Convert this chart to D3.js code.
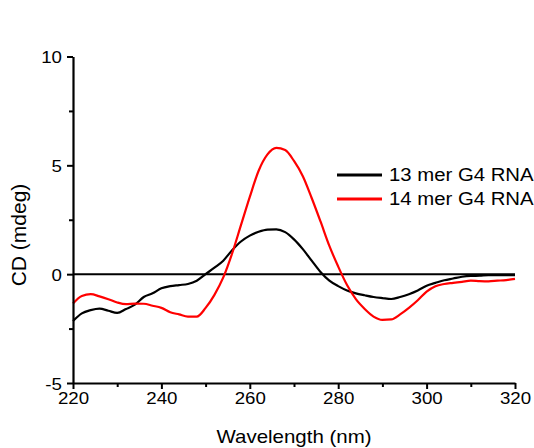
<!DOCTYPE html>
<html>
<head>
<meta charset="utf-8">
<script src="https://cdn.jsdelivr.net/npm/d3@7/dist/d3.min.js"></script>
<style>
  html, body { margin: 0; padding: 0; background: #fff; }
  svg { display: block; font-family: "Liberation Sans", Arial, sans-serif; }
</style>
</head>
<body>
<svg id="chart" width="534" height="448"></svg>
<script>
// CD spectra of two G-quadruplex RNAs, sampled every 2 nm
const wavelength = d3.range(220, 321, 2);

const cd13mer = [
  -2.15, -1.80, -1.65, -1.58, -1.68, -1.78, -1.60, -1.40, -1.05, -0.88,
  -0.65, -0.55, -0.50, -0.45, -0.30, 0.00, 0.30, 0.62, 1.10, 1.50,
  1.77, 1.95, 2.05, 2.06, 1.93, 1.60, 1.15, 0.62, 0.10, -0.30,
  -0.55, -0.75, -0.88, -0.97, -1.05, -1.10, -1.14, -1.05, -0.92, -0.75,
  -0.53, -0.40, -0.28, -0.20, -0.12, -0.08, -0.07, -0.05, -0.05, -0.05,
  -0.04
];

const cd14mer = [
  -1.35, -1.00, -0.92, -1.02, -1.15, -1.30, -1.38, -1.35, -1.36, -1.45,
  -1.55, -1.75, -1.85, -1.95, -1.95, -1.55, -0.95, -0.15, 0.95, 2.25,
  3.55, 4.75, 5.50, 5.80, 5.70, 5.20, 4.50, 3.50, 2.42, 1.30,
  0.35, -0.50, -1.15, -1.60, -1.95, -2.10, -2.08, -1.85, -1.55, -1.20,
  -0.80, -0.55, -0.45, -0.40, -0.35, -0.30, -0.32, -0.33, -0.30, -0.27,
  -0.22
];

const seriesNames = ["13 mer G4 RNA", "14 mer G4 RNA"];
const seriesColors = ["#000000", "#ff0000"];

const xTicks = [220, 240, 260, 280, 300, 320];
const xMinorTicks = [230, 250, 270, 290, 310];
const yTicks = [-5, 0, 5, 10];
const yMinorTicks = [-2.5, 2.5, 7.5];

const xLabel = "Wavelength (nm)";
const yLabel = "CD (mdeg)";

const svg = d3.select("#chart");
const plot = { left: 73, right: 515, top: 56.5, bottom: 383 };

const x = d3.scaleLinear().domain([220, 320]).range([plot.left, plot.right]);
const y = d3.scaleLinear().domain([-5, 10]).range([plot.bottom, plot.top]);

// zero reference line
svg.append("line")
  .attr("x1", x(220)).attr("x2", x(320))
  .attr("y1", y(0)).attr("y2", y(0))
  .attr("stroke", "#000").attr("stroke-width", 2);

// spectra
const line = d3.line()
  .x((d, i) => x(wavelength[i]))
  .y(d => y(d))
  .curve(d3.curveMonotoneX);

[cd13mer, cd14mer].forEach((vals, k) => {
  svg.append("path")
    .datum(vals)
    .attr("fill", "none")
    .attr("stroke", seriesColors[k])
    .attr("stroke-width", 2.2)
    .attr("stroke-linejoin", "round")
    .attr("d", line);
});

// axes; labels use a slightly widened face
const widen = 1.1;
function styleAxis(g) {
  g.selectAll("path.domain").attr("stroke", "#000").attr("stroke-width", 2.2);
  g.selectAll(".tick line").attr("stroke", "#000").attr("stroke-width", 2);
  g.selectAll(".tick text")
    .attr("fill", "#000")
    .style("font-size", "17px")
    .style("font-family", "'Liberation Sans', Arial, sans-serif")
    .each(function () {
      const t = d3.select(this);
      const tx = +t.attr("x") || 0;
      t.attr("x", 0).attr("transform", `translate(${tx},0) scale(${widen},1)`);
    });
}

svg.append("g")
  .attr("transform", `translate(0,${plot.bottom})`)
  .call(d3.axisBottom(x).tickValues(xTicks).tickSize(6).tickSizeOuter(0).tickPadding(3))
  .call(styleAxis);

svg.append("g")
  .attr("transform", `translate(0,${plot.bottom})`)
  .call(d3.axisBottom(x).tickValues(xMinorTicks).tickSize(4).tickFormat(""))
  .call(g => g.select("path.domain").remove())
  .call(styleAxis);

const gy = svg.append("g")
  .attr("transform", `translate(${plot.left},0)`)
  .call(d3.axisLeft(y).tickValues(yTicks).tickSize(6).tickSizeOuter(0).tickPadding(5)
    .tickFormat(d => d < 0 ? "-" + Math.abs(d) : d))
  .call(styleAxis);

gy.selectAll(".tick text").attr("dy", "0.36em");

svg.append("g")
  .attr("transform", `translate(${plot.left},0)`)
  .call(d3.axisLeft(y).tickValues(yMinorTicks).tickSize(4).tickFormat(""))
  .call(g => g.select("path.domain").remove())
  .call(styleAxis);

// axis titles
svg.append("text")
  .attr("transform", `translate(${(plot.left + plot.right) / 2},443) scale(1.17,1)`)
  .attr("text-anchor", "middle")
  .style("font-size", "17.5px")
  .text(xLabel);

svg.append("text")
  .attr("transform", `translate(26,${235}) rotate(-90)`)
  .attr("text-anchor", "middle")
  .style("font-size", "21px")
  .text(yLabel);

// legend
const legend = svg.append("g");
seriesNames.forEach((name, k) => {
  const ly = 175 + k * 24;
  legend.append("line")
    .attr("x1", 337).attr("x2", 382)
    .attr("y1", ly).attr("y2", ly)
    .attr("stroke", seriesColors[k]).attr("stroke-width", 2.8);
  legend.append("text")
    .attr("transform", `translate(389,${ly + 6}) scale(1.13,1)`)
    .style("font-size", "18px")
    .text(name);
});
</script>
</body>
</html>
